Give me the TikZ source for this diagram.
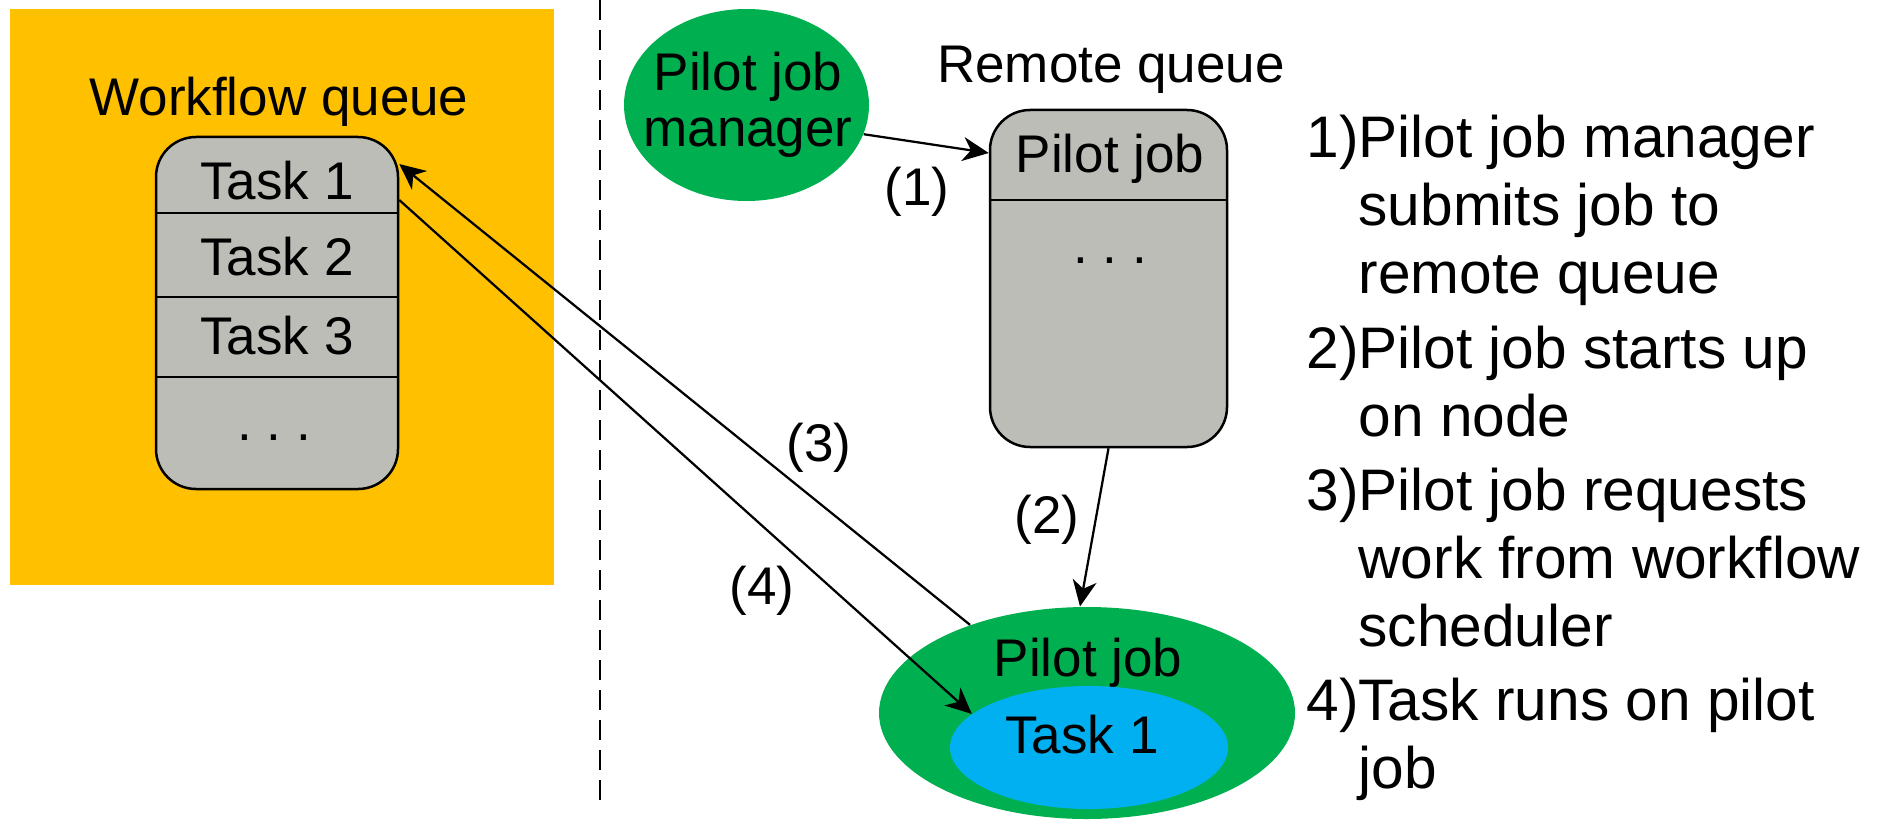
\documentclass[tikz,border=0pt]{standalone}
\usepackage{fontspec}
\setmainfont{Liberation Sans}
\usetikzlibrary{shapes.geometric,arrows.meta}

\definecolor{panelorange}{RGB}{255,192,0}
\definecolor{jobgreen}{RGB}{0,176,80}
\definecolor{taskblue}{RGB}{0,176,240}
\definecolor{queuegray}{RGB}{187,189,182}

\tikzset{
  lbl/.style={font=\fontsize{21.2pt}{22.4pt}\selectfont, inner sep=0pt},
  listtext/.style={font=\fontsize{23.44pt}{27.2pt}\selectfont, inner sep=0pt},
  queuebox/.style={draw=black, line width=1pt, fill=queuegray,
    rounded corners=16pt, inner sep=0pt},
  rowline/.style={draw=black, line width=1pt},
  blob/.style={ellipse, inner sep=0pt},
  flow/.style={line width=0.9pt,
    -{Stealth[length=10.4pt, width=9.6pt, inset=3.2pt]}},
  divider/.style={line width=0.9pt, dash pattern=on 8pt off 4pt},
}

\begin{document}
\begin{tikzpicture}[x=0.4pt,y=-0.4pt]
\useasboundingbox (0,0) rectangle (1877,820);

% workflow side panel and the divider between the two sides
\fill[panelorange] (10,9) rectangle (554,585);
\draw[divider] (600,0) -- (600,800);

% workflow queue
\node[lbl, anchor=base] (wftitle) at (279,115) {Workflow queue};
\node[queuebox, minimum width=96.8pt, minimum height=140.8pt] (wfq) at (277,313) {};
\draw[rowline] (wfq.west |- 0,213) -- (wfq.east |- 0,213);
\draw[rowline] (wfq.west |- 0,297) -- (wfq.east |- 0,297);
\draw[rowline] (wfq.west |- 0,377) -- (wfq.east |- 0,377);
\node[lbl, anchor=base] (wft1) at (277,199) {Task 1};
\node[lbl, anchor=base] (wft2) at (277,275) {Task 2};
\node[lbl, anchor=base] (wft3) at (277,354) {Task 3};
\node[lbl, anchor=base] (wfdots) at (274,440) {.\ .\ .};

% pilot job manager
\node[blob, fill=jobgreen, minimum width=98pt, minimum height=76.8pt] (pjm) at (746.5,105) {};
\node[lbl, align=center] (pjmtext) at (748,105) {Pilot job\\manager};

% remote queue
\node[lbl, anchor=base] (rqtitle) at (1111,82) {Remote queue};
\node[queuebox, minimum width=94.8pt, minimum height=134.8pt] (rq) at (1108.5,278.5) {};
\draw[rowline] (rq.west |- 0,200) -- (rq.east |- 0,200);
\node[lbl, anchor=base] (rqpj) at (1110,172) {Pilot job};
\node[lbl, anchor=base] (rqdots) at (1110,263) {.\ .\ .};

% running pilot job with its task
\node[blob, fill=jobgreen, minimum width=166.4pt, minimum height=84.8pt] (pj) at (1087,713) {};
\node[lbl, anchor=base] (pjtext) at (1088,676) {Pilot job};
\node[blob, fill=taskblue, minimum width=111.2pt, minimum height=49.2pt] (tk) at (1089,747.5) {};
\node[lbl, anchor=base] (tktext) at (1082,753) {Task 1};

% connectors
\draw[flow] (pjm.-14.5) -- ([yshift=50.2pt]rq.west);
\draw[flow] (rq.south) -- ([xshift=-2.8pt]pj.north);
\draw[flow] (pj.143) -- ([yshift=59.6pt]wfq.east);
\draw[flow] ([yshift=45.2pt]wfq.east) -- (tk.164);

% step numbers on the connectors
\node[lbl] (s1) at (917,192) {(1)};
\node[lbl] (s2) at (1047,520) {(2)};
\node[lbl] (s3) at (819,448) {(3)};
\node[lbl] (s4) at (762,591) {(4)};

% legend of the steps
\node[listtext, anchor=base west] (step1) at (1306,157)
  {\begin{tabular}[t]{@{}l@{}l@{}}1)&Pilot job manager\\&submits job to\\&remote queue\end{tabular}};
\node[listtext, anchor=base west] (step2) at (1306,368)
  {\begin{tabular}[t]{@{}l@{}l@{}}2)&Pilot job starts up\\&on node\end{tabular}};
\node[listtext, anchor=base west] (step3) at (1306,510)
  {\begin{tabular}[t]{@{}l@{}l@{}}3)&Pilot job requests\\&work from workflow\\&scheduler\end{tabular}};
\node[listtext, anchor=base west] (step4) at (1306,720)
  {\begin{tabular}[t]{@{}l@{}l@{}}4)&Task runs on pilot\\&job\end{tabular}};
\end{tikzpicture}
\end{document}
